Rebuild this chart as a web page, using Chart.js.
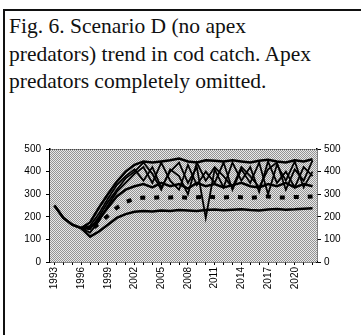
<!DOCTYPE html>
<html>
<head>
<meta charset="utf-8">
<script src="https://cdn.jsdelivr.net/npm/chart.js@4/dist/chart.umd.min.js"></script>
<style>
  html, body { margin: 0; padding: 0; background: #fff; }
  #page { position: relative; width: 361px; height: 335px; overflow: hidden; }
  #frameTop { position: absolute; left: 3px; top: 9px; width: 358px; height: 2px; background: #111; }
  #frameLeft { position: absolute; left: 3px; top: 9px; width: 2px; height: 326px; background: #111; }
  #caption {
    position: absolute; left: 9px; top: 13px; width: 352px;
    font-family: "Liberation Serif", "DejaVu Serif", serif;
    font-size: 21.5px; line-height: 27.5px; color: #111;
  }
  #chart { position: absolute; left: 0; top: 130px; }
</style>
</head>
<body>
<div id="page">
  <div id="frameTop"></div>
  <div id="frameLeft"></div>
  <div id="caption">Fig. 6. Scenario D (no apex<br>predators) trend in cod catch. Apex<br>predators completely omitted.</div>
  <canvas id="chart" width="361" height="180"></canvas>
</div>
<script>
// years on the x axis
var years = [];
for (var y = 1993; y <= 2022; y++) years.push(String(y));

var yTicks = [0, 100, 200, 300, 400, 500];

// cod catch trajectories
var upper = [250,195,165,150,175,240,300,355,400,430,445,440,445,450,458,445,440,450,448,445,450,445,440,448,452,445,440,450,445,455];
var lower = [250,195,165,150,112,135,165,195,212,222,226,224,228,226,230,228,226,230,232,229,231,233,230,228,232,234,231,233,236,238];
var meanRun = [null,null,null,150,140,170,205,240,265,280,285,283,287,285,288,284,286,290,287,285,289,286,284,288,290,286,285,288,287,290];
var midRun = [null,null,null,150,150,190,240,290,320,335,345,330,350,335,345,325,350,335,345,330,340,350,335,330,345,335,350,330,345,335];
var runA = [null,null,null,150,160,215,280,340,380,410,360,420,330,400,440,350,420,195,410,330,440,360,420,310,445,350,400,330,420,380];
var runB = [null,null,null,150,130,180,250,310,350,390,420,350,440,360,320,430,340,400,350,440,320,410,350,440,300,430,360,445,330,400];
var runC = [null,null,null,150,145,200,265,320,370,400,440,390,320,410,380,300,440,360,420,380,330,420,380,330,410,440,320,410,360,450];

// halftone look of the plot background
function makePattern() {
  var c = document.createElement('canvas');
  c.width = 2; c.height = 2;
  var g = c.getContext('2d');
  g.fillStyle = '#e8e8e8';
  g.fillRect(0, 0, 2, 2);
  g.fillStyle = '#949494';
  g.fillRect(0, 0, 1, 1);
  g.fillRect(1, 1, 1, 1);
  return g.createPattern(c, 'repeat');
}

var bgPlugin = {
  id: 'bg',
  beforeDatasetsDraw: function(chart) {
    var a = chart.chartArea, ctx = chart.ctx;
    ctx.save();
    ctx.fillStyle = makePattern();
    ctx.fillRect(a.left, a.top, a.right - a.left, a.bottom - a.top);
    ctx.strokeStyle = '#444';
    ctx.lineWidth = 1;
    ctx.setLineDash([1, 1]);
    ctx.beginPath();
    ctx.moveTo(a.left, a.top + 0.5);
    ctx.lineTo(a.right, a.top + 0.5);
    ctx.stroke();
    ctx.restore();
  }
};

function line(data, width, dash) {
  return {
    data: data,
    borderColor: '#000',
    borderWidth: width,
    borderDash: dash || [],
    pointRadius: 0,
    tension: 0,
    spanGaps: false,
    fill: false
  };
}

var tickFont = { family: 'Liberation Sans, Arial, sans-serif', size: 10 };

new Chart(document.getElementById('chart'), {
  type: 'line',
  data: {
    labels: years,
    datasets: [
      line(upper, 2.5),
      line(lower, 2.5),
      line(midRun, 2.5),
      line(runA, 1.8),
      line(runB, 1.8),
      line(runC, 1.8),
      line(meanRun, 4, [5, 9])
    ]
  },
  plugins: [bgPlugin],
  options: {
    responsive: false,
    animation: false,
    layout: { padding: { top: 19, left: 0, right: 0, bottom: 0 } },
    plugins: { legend: { display: false }, tooltip: { enabled: false } },
    scales: {
      x: {
        offset: true,
        grid: { display: true, drawOnChartArea: false, tickLength: 3, color: '#000' },
        border: { display: true, color: '#000', width: 1.5 },
        ticks: {
          autoSkip: false, minRotation: 90, maxRotation: 90,
          color: '#000', font: tickFont, padding: 2,
          callback: function(v, i) { return (i % 3 === 0) ? years[i] : ''; }
        },
        afterFit: function(s) { s.height = 48; }
      },
      y: {
        position: 'left', min: 0, max: 500,
        afterBuildTicks: function(s) { s.ticks = yTicks.map(function(v) { return { value: v }; }); },
        grid: { drawOnChartArea: false, tickLength: 4, color: '#000' },
        border: { color: '#000', width: 1.5 },
        ticks: { color: '#000', font: tickFont, padding: 5 },
        afterFit: function(s) { s.width = 50; }
      },
      y2: {
        position: 'right', min: 0, max: 500,
        afterBuildTicks: function(s) { s.ticks = yTicks.map(function(v) { return { value: v }; }); },
        grid: { drawOnChartArea: false, tickLength: 4, color: '#000' },
        border: { color: '#000', width: 1.5 },
        ticks: { color: '#000', font: tickFont, padding: 3 },
        afterFit: function(s) { s.width = 44; }
      }
    }
  }
});
</script>
</body>
</html>
